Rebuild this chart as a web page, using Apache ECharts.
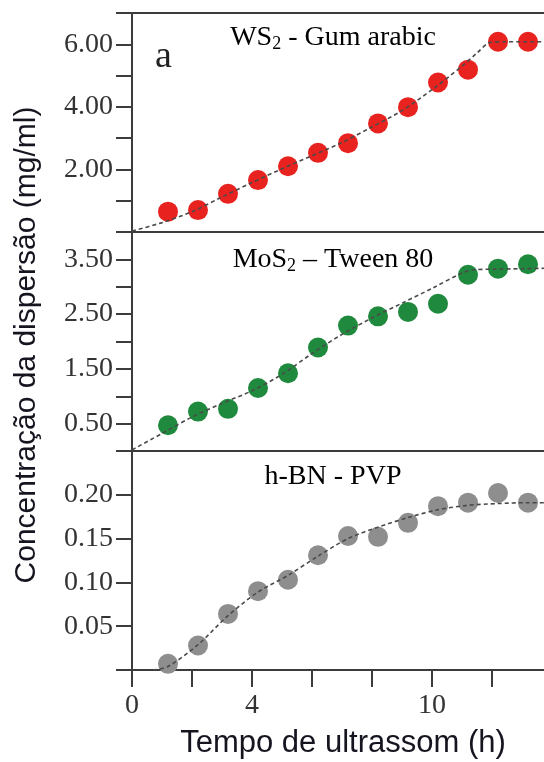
<!DOCTYPE html>
<html>
<head>
<meta charset="utf-8">
<script src="https://cdn.jsdelivr.net/npm/echarts@6/dist/echarts.min.js"></script>
<style>
html,body{margin:0;padding:0;background:#fff;}
#chart{width:544px;height:762px;}
</style>
</head>
<body>
<div id="chart"></div>
<script>
// ---- data ----
const hours = [1.2, 2.2, 3.2, 4.2, 5.2, 6.2, 7.2, 8.2, 9.2, 10.2, 11.2, 12.2, 13.2];
const ws2 = [0.65, 0.7, 1.22, 1.66, 2.1, 2.53, 2.84, 3.47, 3.99, 4.78, 5.19, 6.08, 6.08];
const mos2 = [0.47, 0.72, 0.77, 1.15, 1.42, 1.89, 2.29, 2.46, 2.54, 2.69, 3.22, 3.33, 3.41];
const hbn = [0.007, 0.028, 0.064, 0.09, 0.103, 0.131, 0.153, 0.152, 0.168, 0.187, 0.191, 0.202, 0.191];

const ws2FitX = [0, 1, 2, 3, 4, 5, 6, 7, 8, 9, 10, 11, 11.5, 11.95, 12.5, 13, 14];
const ws2FitY = [0.03, 0.3, 0.65, 1.12, 1.58, 2.02, 2.44, 2.86, 3.36, 3.88, 4.55, 5.3, 5.72, 6.06, 6.08, 6.08, 6.08];
const mos2FitX = [0, 1, 2, 3, 4, 5, 6, 7, 8, 9, 10, 11, 11.4, 12, 13, 14];
const mos2FitY = [0.02, 0.32, 0.62, 0.87, 1.1, 1.4, 1.78, 2.13, 2.43, 2.7, 2.97, 3.25, 3.31, 3.32, 3.33, 3.34];
const hbnFitX = [0.7, 1.2, 2.2, 3.2, 4.2, 5.2, 6.2, 7.2, 8.2, 9.2, 10.2, 11.2, 12.2, 13.2, 14];
const hbnFitY = [0.0, 0.004, 0.029, 0.062, 0.089, 0.108, 0.13, 0.15, 0.163, 0.174, 0.183, 0.188, 0.19, 0.191, 0.191];

const xTickLabels = [0, 4, 10];
const yLabels1 = [2, 4, 6];
const yLabels2 = [0.5, 1.5, 2.5, 3.5];
const yLabels3 = [0.05, 0.10, 0.15, 0.20];

const panelTitles = [
  '{a|WS}{s|2}{a| - Gum arabic}',
  '{a|MoS}{s|2}{a| \u2013 Tween 80}',
  '{a|h-BN - PVP}'
];
const xTitle = 'Tempo de ultrassom (h)';
const yTitle = 'Concentração da dispersão (mg/ml)';
const panelLetter = 'a';

// ---- styling ----
const AX = '#3c3c3c';
const SERIF = '"Liberation Serif", "DejaVu Serif", serif';
const SANS = '"Liberation Sans", Arial, sans-serif';
const LBL = 28;

function near(v, list) { return list.some(t => Math.abs(t - v) < 1e-6); }

const gridTops = [13, 232, 451];
const gridH = 219;
const grids = gridTops.map(t => ({ left: 132, top: t, width: 420, height: gridH, show: false,
  containLabel: false, outerBoundsMode: 'none' }));

function xAx(i, showLabels) {
  return {
    type: 'value', gridIndex: i, min: 0, max: 14, interval: 2,
    axisLine: { show: true, onZero: false, lineStyle: { color: AX, width: 2 } },
    axisTick: { show: showLabels, inside: false, length: 17, lineStyle: { color: AX, width: 2 } },
    axisLabel: {
      show: showLabels, margin: 22, fontFamily: SERIF, fontSize: LBL, color: '#333',
      formatter: v => near(v, xTickLabels) ? String(v) : ''
    },
    splitLine: { show: false }
  };
}
const xAxes = [xAx(0, false), xAx(1, false), xAx(2, true),
  { type: 'value', gridIndex: 0, position: 'top', min: 0, max: 14,
    axisLine: { show: true, onZero: false, lineStyle: { color: AX, width: 2 } },
    axisTick: { show: false }, axisLabel: { show: false }, splitLine: { show: false } }];

function yAx(i, max, interval, labels) {
  return {
    type: 'value', gridIndex: i, min: 0, max: max, interval: interval,
    axisLine: { show: true, onZero: false, lineStyle: { color: AX, width: 2 } },
    axisTick: { show: true, inside: false, length: 16, lineStyle: { color: AX, width: 2 } },
    axisLabel: {
      margin: 19, fontFamily: SERIF, fontSize: LBL, color: '#333',
      formatter: v => near(v, labels) ? v.toFixed(2) : ''
    },
    splitLine: { show: false }
  };
}
const yAxes = [yAx(0, 7, 1, yLabels1), yAx(1, 4, 0.5, yLabels2), yAx(2, 0.25, 0.05, yLabels3)];

function zip(xs, ys) { return xs.map((x, k) => [x, ys[k]]); }

function dots(i, ys, color) {
  return { type: 'scatter', xAxisIndex: i, yAxisIndex: i, data: zip(hours, ys),
    symbolSize: 20, itemStyle: { color: color, opacity: 1 }, z: 2, silent: true };
}
function fit(i, xs, ys) {
  return { type: 'line', xAxisIndex: i, yAxisIndex: i, data: zip(xs, ys), smooth: 0.3,
    showSymbol: false, symbol: 'none', z: 3, silent: true,
    lineStyle: { color: '#4a4a4a', width: 1.6, type: [4, 3] } };
}

const series = [
  dots(0, ws2, '#e8221f'), fit(0, ws2FitX, ws2FitY),
  dots(1, mos2, '#1f8a3d'), fit(1, mos2FitX, mos2FitY),
  dots(2, hbn, '#8e8e8e'), fit(2, hbnFitX, hbnFitY)
];

const rich = { a: { fontFamily: SERIF, fontSize: 28, color: '#333' },
               s: { fontFamily: SERIF, fontSize: 18, color: '#333', padding: [12, 0, 0, 0] } };
const titleY = [38, 260, 477];
const graphics = panelTitles.map((t, k) => ({
  type: 'text', x: 333, y: titleY[k], z: 10,
  style: { text: t, rich: rich, align: 'center', verticalAlign: 'middle' }
}));
graphics.push({ type: 'text', x: 155, y: 57, z: 10,
  style: { text: panelLetter, font: '38px ' + SERIF, fill: '#222', align: 'left', verticalAlign: 'middle' } });
graphics.push({ type: 'text', x: 343, y: 743, z: 10,
  style: { text: xTitle, font: '31px ' + SANS, fill: '#151520', align: 'center', verticalAlign: 'middle' } });
graphics.push({ type: 'text', x: 27, y: 345, rotation: Math.PI / 2, z: 10,
  style: { text: yTitle, font: '30px ' + SANS, fill: '#151520', align: 'center', verticalAlign: 'middle' } });

const chart = echarts.init(document.getElementById('chart'), null, { renderer: 'canvas' });
chart.setOption({
  animation: false,
  backgroundColor: '#ffffff',
  grid: grids,
  xAxis: xAxes,
  yAxis: yAxes,
  series: series,
  graphic: graphics
});
</script>
</body>
</html>
